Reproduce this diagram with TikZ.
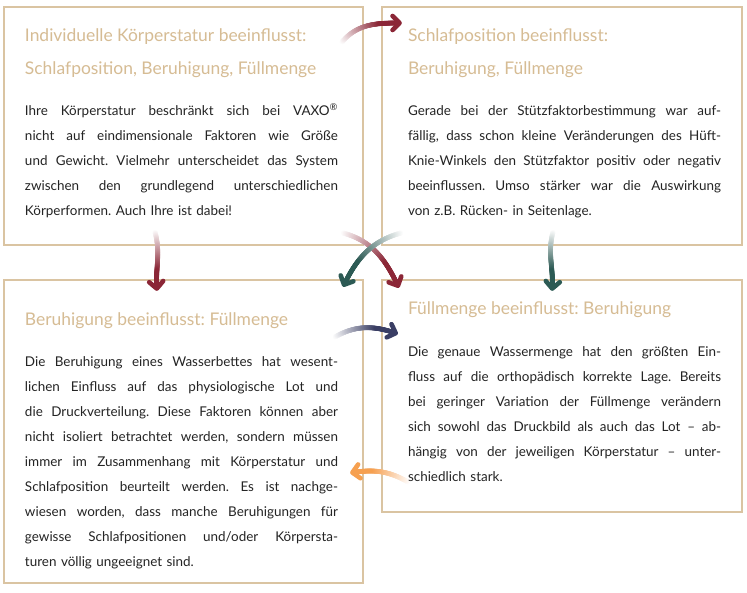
\documentclass[tikz,border=0pt]{standalone}
\usepackage{fontspec}
\setmainfont{Lato}
\usetikzlibrary{arrows.meta,decorations.markings}
\definecolor{titletan}{RGB}{214,188,148}
\definecolor{frametan}{RGB}{218,196,162}
\definecolor{bodygray}{RGB}{36,36,36}
\definecolor{arrowred}{RGB}{139,38,54}
\definecolor{arrowteal}{RGB}{44,90,84}
\definecolor{arrownavy}{RGB}{58,62,100}
\definecolor{arroworange}{RGB}{246,160,80}
\newlength\bodywidth
\setlength\bodywidth{313bp}
\newcommand\jl[1]{\hbox to \bodywidth{\spaceskip=0.26em plus 1em minus 0.06em\relax #1}}
\frenchspacing
\begin{document}
\begin{tikzpicture}[x=1bp,y=1bp,inner sep=0pt,outer sep=0pt,
panel/.style={draw=frametan,line width=1.2bp,rectangle},
heading/.style={anchor=base west,text=titletan,font=\fontsize{17.5}{20}\selectfont},
bodytext/.style={anchor=base west,text=bodygray,text width=\bodywidth,font=\fontsize{13.5}{25}\selectfont},
fadearrow/.style={decoration={markings,
  mark=between positions 0 and 0.94 step 0.4bp with {\pgfmathsetmacro\fademix{min(100,150*\pgfkeysvalueof{/pgf/decoration/mark info/distance from start}/\pgfdecoratedpathlength)}\fill[#1!\fademix!white] (0,0) circle (2.4bp);},
  mark=at position 1 with {\arrow[#1,line width=4.6bp]{Straight Barb[length=7bp,width=14bp,round]}}},
  postaction={decorate}}]
\fill[white] (0,0) rectangle (747,593);
\useasboundingbox (0,0) rectangle (747,593);
% the four panels
\node[panel,minimum width=359bp,minimum height=238bp] (b1) at (183.5,467) {};
\node[panel,minimum width=360bp,minimum height=238bp] (b2) at (562,467) {};
\node[panel,minimum width=359bp,minimum height=303bp] (b3) at (183.5,161.5) {};
\node[panel,minimum width=360bp,minimum height=232bp] (b4) at (562,197) {};
% arrows
\coordinate (a1s) at (342,551); \coordinate (a1e) at (402,570);
\coordinate (a2s) at (155,361); \coordinate (a2e) at (157,302);
\coordinate (a3s) at (553,361); \coordinate (a3e) at (552,302);
\coordinate (a4s) at (343,360); \coordinate (a4e) at (399,305);
\coordinate (a5s) at (401,360); \coordinate (a5e) at (343,306);
\coordinate (a6s) at (335,256); \coordinate (a6e) at (398,259);
\coordinate (a7s) at (408,111); \coordinate (a7e) at (350,120);
\path[fadearrow=arrowred] (a1s) to[out=50,in=180] (a1e);
\path[fadearrow=arrowred] (a2s) to[out=-75,in=95] (a2e);
\path[fadearrow=arrowteal] (a3s) to[out=-105,in=85] (a3e);
\path[fadearrow=arrowred] (a4s) to[out=-15,in=115] (a4e);
\path[fadearrow=arrowteal] (a5s) to[out=195,in=65] (a5e);
\path[fadearrow=arrownavy] (a6s) to[out=30,in=160] (a6e);
\path[fadearrow=arroworange] (a7s) to[out=150,in=10] (a7e);
% panel 1
\node[heading] (h1a) at ([xshift=21bp,yshift=-35bp]b1.north west) {Individuelle Körperstatur beeinflusst:};
\node[heading] (h1b) at ([yshift=-33bp]h1a.base west) {Schlafposition, Beruhigung, Füllmenge};
\node[bodytext] (t1) at ([yshift=-41bp]h1b.base west) {
\jl{Ihre Körperstatur beschränkt sich bei VAXO\smash{\textsuperscript{®}}}
\jl{nicht auf eindimensionale Faktoren wie Größe}
\jl{und Gewicht. Vielmehr unterscheidet das System}
\jl{zwischen den grundlegend unterschiedlichen}
\hbox{Körperformen. Auch Ihre ist dabei!}};
% panel 2
\node[heading] (h2a) at ([xshift=26bp,yshift=-35bp]b2.north west) {Schlafposition beeinflusst:};
\node[heading] (h2b) at ([yshift=-33bp]h2a.base west) {Beruhigung, Füllmenge};
\node[bodytext] (t2) at ([yshift=-41bp]h2b.base west) {
\jl{Gerade bei der Stützfaktorbestimmung war auf-}
\jl{fällig, dass schon kleine Veränderungen des Hüft-}
\jl{Knie-Winkels den Stützfaktor positiv oder negativ}
\jl{beeinflussen. Umso stärker war die Auswirkung}
\hbox{von z.B. Rücken- in Seitenlage.}};
% panel 3
\node[heading] (h3) at ([xshift=21bp,yshift=-46bp]b3.north west) {Beruhigung beeinflusst: Füllmenge};
\node[bodytext] (t3) at ([yshift=-41bp]h3.base west) {
\jl{Die Beruhigung eines Wasserbettes hat wesent-}
\jl{lichen Einfluss auf das physiologische Lot und}
\jl{die Druckverteilung. Diese Faktoren können aber}
\jl{nicht isoliert betrachtet werden, sondern müssen}
\jl{immer im Zusammenhang mit Körperstatur und}
\jl{Schlafposition beurteilt werden. Es ist nachge-}
\jl{wiesen worden, dass manche Beruhigungen für}
\jl{gewisse Schlafpositionen und/oder Körpersta-}
\hbox{turen völlig ungeeignet sind.}};
% panel 4
\node[heading] (h4) at ([xshift=26bp,yshift=-35bp]b4.north west) {Füllmenge beeinflusst: Beruhigung};
\node[bodytext] (t4) at ([yshift=-42bp]h4.base west) {
\jl{Die genaue Wassermenge hat den größten Ein-}
\jl{fluss auf die orthopädisch korrekte Lage. Bereits}
\jl{bei geringer Variation der Füllmenge verändern}
\jl{sich sowohl das Druckbild als auch das Lot – ab-}
\jl{hängig von der jeweiligen Körperstatur – unter-}
\hbox{schiedlich stark.}};
\end{tikzpicture}
\end{document}
